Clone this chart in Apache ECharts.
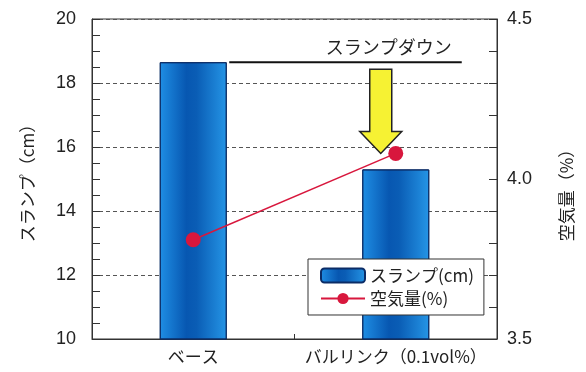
<!DOCTYPE html>
<html>
<head>
<meta charset="utf-8">
<script src="https://cdn.jsdelivr.net/npm/echarts@6/dist/echarts.min.js"></script>
<style>
  html, body { margin: 0; padding: 0; background: #fff; }
  #chart { width: 586px; height: 372px; }
</style>
</head>
<body>
<div id="chart"></div>
<script>
// データ
const categories = ["ベース", "バルリンク（0.1vol%）"];
const slump = [18.65, 15.3];
const airContent = [3.81, 4.08];
const slumpTicks = [10, 12, 14, 16, 18, 20];
const airTicks = [3.5, 4.0, 4.5];
const noteText = "スランプダウン";
const airAxisName = "空気量（%）";

const FONT = '"Liberation Sans", "Noto Sans CJK JP", sans-serif';
const JP = '"Noto Sans CJK JP", sans-serif';

const chart = echarts.init(document.getElementById("chart"));

// 棒のグラデーション
const barColor = new echarts.graphic.LinearGradient(0, 0, 1, 0, [
  { offset: 0, color: "#1f8ee4" },
  { offset: 0.4, color: "#0757b1" },
  { offset: 0.55, color: "#0a5db5" },
  { offset: 1, color: "#2595e6" },
]);

const option = {
  animation: false,
  backgroundColor: "#fff",
  grid: {
    left: 92,
    right: 89,
    top: 19,
    bottom: 33,
    show: true,
    borderColor: "#333",
    borderWidth: 1,
  },
  legend: {
    orient: "vertical",
    left: 308,
    top: 259,
    padding: [8, 10, 8, 12],
    itemWidth: 44,
    itemHeight: 14,
    itemGap: 6,
    backgroundColor: "#fff",
    borderColor: "#333",
    borderWidth: 1,
    borderRadius: 0,
    textStyle: { fontSize: 17, color: "#222", fontFamily: JP },
    data: ["スランプ(cm)", "空気量(%)"],
  },
  xAxis: {
    type: "category",
    data: categories,
    axisLine: { lineStyle: { color: "#333" } },
    axisTick: { show: true, inside: true, length: 5, lineStyle: { color: "#333" } },
    axisLabel: {
      interval: 0,
      hideOverlap: false,
      fontSize: 17,
      color: "#222",
      fontFamily: JP,
      margin: 9,
    },
  },
  yAxis: [
    {
      type: "value",
      min: slumpTicks[0],
      max: slumpTicks[slumpTicks.length - 1],
      interval: 2,
      name: "スランプ（cm）",
      nameLocation: "middle",
      nameRotate: 90,
      nameGap: 56,
      nameTextStyle: { fontSize: 17, color: "#222", fontFamily: JP },
      axisLine: { show: true, lineStyle: { color: "#333" } },
      axisTick: { show: true, inside: true, length: 8, lineStyle: { color: "#333" } },
      minorTick: { show: true, splitNumber: 4, length: 8, lineStyle: { color: "#333" } },
      axisLabel: { fontSize: 18, color: "#222", fontFamily: FONT, margin: 16 },
      splitLine: { show: true, lineStyle: { color: "#555", type: [4, 3], width: 1 } },
    },
    {
      type: "value",
      min: airTicks[0],
      max: airTicks[airTicks.length - 1],
      interval: 0.5,
      position: "right",
      axisLine: { show: true, lineStyle: { color: "#333" } },
      axisTick: { show: true, inside: true, length: 8, lineStyle: { color: "#333" } },
      minorTick: { show: true, splitNumber: 5, length: 8, lineStyle: { color: "#333" } },
      axisLabel: {
        fontSize: 18,
        color: "#222",
        fontFamily: FONT,
        margin: 10,
        formatter: (v) => v.toFixed(1),
      },
      splitLine: { show: false },
    },
  ],
  series: [
    {
      name: "スランプ(cm)",
      type: "bar",
      data: slump,
      barWidth: 67,
      itemStyle: { color: barColor, borderColor: "#0b2c66", borderWidth: 1 },
      z: 2,
    },
    {
      name: "空気量(%)",
      type: "line",
      yAxisIndex: 1,
      data: airContent,
      symbol: "circle",
      symbolSize: 15,
      itemStyle: { color: "#d8173d" },
      lineStyle: { color: "#d8173d", width: 1.5 },
      z: 5,
    },
  ],
};
chart.setOption(option);

// 注記（スランプダウン）
const p1 = chart.convertToPixel({ xAxisIndex: 0, yAxisIndex: 0 }, [categories[0], slump[0]]);
const p2 = chart.convertToPixel({ xAxisIndex: 0, yAxisIndex: 0 }, [categories[1], slump[1]]);
const a2 = chart.convertToPixel({ xAxisIndex: 0, yAxisIndex: 1 }, [categories[1], airContent[1]]);
const rightTop = chart.convertToPixel({ yAxisIndex: 1 }, airTicks[airTicks.length - 1]);
const rightBottom = chart.convertToPixel({ yAxisIndex: 1 }, airTicks[0]);

const ax = p2[0] - 15; // 矢印の中心
const shaftTop = p1[1] + 7;
const headBase = a2[1] - 22;
const tipY = a2[1];

chart.setOption({
  graphic: [
    {
      type: "line",
      shape: { x1: p1[0] + 36, y1: p1[1], x2: p2[0] + 66, y2: p1[1] },
      style: { stroke: "#111", lineWidth: 2 },
      z: 10,
    },
    {
      type: "text",
      x: ax + 8,
      y: p1[1] - 6,
      style: {
        text: noteText,
        fontSize: 18,
        fontFamily: JP,
        fill: "#222",
        align: "center",
        verticalAlign: "bottom",
      },
      z: 10,
    },
    {
      type: "polygon",
      shape: {
        points: [
          [ax - 11, shaftTop],
          [ax + 11, shaftTop],
          [ax + 11, headBase],
          [ax + 21, headBase],
          [ax, tipY],
          [ax - 21, headBase],
          [ax - 11, headBase],
        ],
      },
      style: { fill: "#f6f233", stroke: "#222", lineWidth: 1.5 },
      z: 10,
    },
    // 右軸の軸名（下から上へ読む向き）
    {
      type: "text",
      x: 567,
      y: (rightTop + rightBottom) / 2 + 12,
      rotation: Math.PI / 2,
      style: {
        text: airAxisName,
        fontSize: 17,
        fontFamily: JP,
        fill: "#222",
        align: "center",
        verticalAlign: "middle",
      },
      z: 10,
    },
  ],
});
</script>
</body>
</html>
